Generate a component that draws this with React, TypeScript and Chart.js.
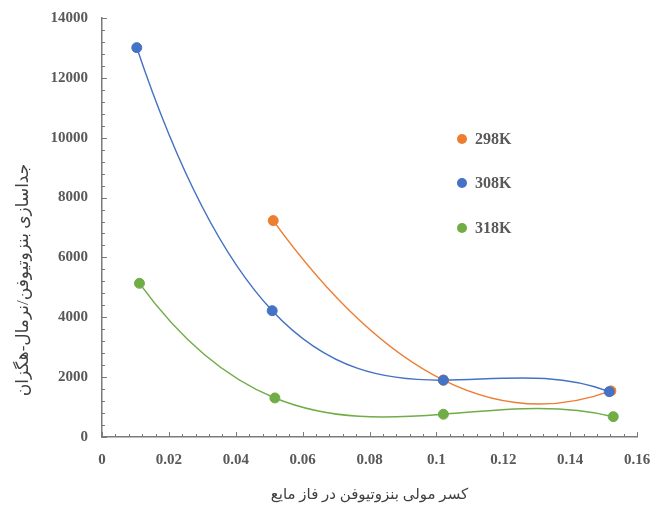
import { useEffect, useRef } from "react";
import { Chart, registerables } from "chart.js";

Chart.register(...registerables);

// Separation factor vs. liquid-phase mole fraction of benzothiophene
const seriesNames = ["298K", "308K", "318K"];
const seriesColors = ["#ED7D31", "#4472C4", "#70AD47"];

const x298 = [0.0512, 0.1021, 0.1522];
const y298 = [7230, 1900, 1540];

const x308 = [0.0104, 0.0509, 0.1021, 0.1517];
const y308 = [13010, 4220, 1900, 1515];

const x318 = [0.0112, 0.0517, 0.1021, 0.1529];
const y318 = [5135, 1305, 760, 680];

const xTickValues = [0, 0.02, 0.04, 0.06, 0.08, 0.1, 0.12, 0.14, 0.16];
const yTickValues = [0, 2000, 4000, 6000, 8000, 10000, 12000, 14000];

const xTitle = "کسر مولی بنزوتیوفن در فاز مایع";
const yTitle = "جداسازی بنزوتیوفن/نرمال-هگزان";

const serif = "'Liberation Serif', 'Times New Roman', 'DejaVu Sans', serif";
const axisColor = "#7a7a7a";
const textColor = "#595959";
const titleColor = "#404040";

const toPoints = (xs: number[], ys: number[]) => xs.map((x, i) => ({ x, y: ys[i] }));

// Slopes of the interpolating polynomial (Newton form) at each data point
function polySlopes(xs: number[], ys: number[]): number[] {
  const n = xs.length;
  const coef = ys.slice();
  for (let j = 1; j < n; j++) {
    for (let i = n - 1; i >= j; i--) {
      coef[i] = (coef[i] - coef[i - 1]) / (xs[i] - xs[i - j]);
    }
  }
  return xs.map((x) => {
    let p = coef[n - 1];
    let dp = 0;
    for (let k = n - 2; k >= 0; k--) {
      dp = dp * (x - xs[k]) + p;
      p = p * (x - xs[k]) + coef[k];
    }
    return dp;
  });
}

// Smooth each line as piecewise cubic Bezier following the interpolating curve
const polyCurve = {
  id: "polyCurve",
  beforeDatasetDraw(chart: any, args: any) {
    const meta = chart.getDatasetMeta(args.index);
    const line = meta.dataset;
    if (!line) return;
    line.updateControlPoints(chart.chartArea, "x");
    const raw = chart.data.datasets[args.index].data as { x: number; y: number }[];
    const xs = raw.map((p) => p.x);
    const ys = raw.map((p) => p.y);
    const d = polySlopes(xs, ys);
    const sx = chart.scales.x;
    const sy = chart.scales.y;
    const pts = meta.data;
    for (let i = 0; i < pts.length; i++) {
      const pt = pts[i];
      if (i > 0) {
        const h = (xs[i] - xs[i - 1]) / 3;
        pt.cp1x = sx.getPixelForValue(xs[i] - h);
        pt.cp1y = sy.getPixelForValue(ys[i] - d[i] * h);
      } else {
        pt.cp1x = pt.x;
        pt.cp1y = pt.y;
      }
      if (i < pts.length - 1) {
        const h = (xs[i + 1] - xs[i]) / 3;
        pt.cp2x = sx.getPixelForValue(xs[i] + h);
        pt.cp2y = sy.getPixelForValue(ys[i] + d[i] * h);
      } else {
        pt.cp2x = pt.x;
        pt.cp2y = pt.y;
      }
    }
    line._path = undefined;
  },
};

// Inside tick marks along both axes
const insideTicks = {
  id: "insideTicks",
  afterDraw(chart: any) {
    const { ctx, chartArea } = chart;
    const xs = chart.scales.x;
    const ys = chart.scales.y;
    ctx.save();
    ctx.strokeStyle = axisColor;
    ctx.lineWidth = 1;
    ctx.beginPath();
    for (let i = 0; i <= 35; i++) {
      const py = Math.round(ys.getPixelForValue(i * 400)) + 0.5;
      const len = i % 5 === 0 ? 5 : 3;
      ctx.moveTo(chartArea.left, py);
      ctx.lineTo(chartArea.left + len, py);
    }
    for (let i = 0; i <= 40; i++) {
      const px = Math.round(xs.getPixelForValue(i * 0.004)) + 0.5;
      const len = i % 5 === 0 ? 5 : 3;
      ctx.moveTo(px, chartArea.bottom);
      ctx.lineTo(px, chartArea.bottom - len);
    }
    ctx.stroke();
    ctx.restore();
  },
};

// Legend inside the plot, and the rotated y-axis title
const annotations = {
  id: "annotations",
  afterDraw(chart: any) {
    const { ctx } = chart;
    ctx.save();
    ctx.font = `bold 16px ${serif}`;
    ctx.textBaseline = "middle";
    ctx.textAlign = "left";
    const rowsY = [139, 183, 228];
    seriesNames.forEach((name, i) => {
      ctx.beginPath();
      ctx.fillStyle = seriesColors[i];
      ctx.arc(462, rowsY[i], 5, 0, Math.PI * 2);
      ctx.fill();
      ctx.fillStyle = textColor;
      ctx.fillText(name, 475, rowsY[i] + 1);
    });

    ctx.translate(24, 280);
    ctx.rotate(-Math.PI / 2);
    ctx.font = `17px ${serif}`;
    ctx.fillStyle = titleColor;
    ctx.textAlign = "center";
    ctx.fillText(yTitle, 0, 0);
    ctx.restore();
  },
};

export default function App() {
  const canvasRef = useRef<HTMLCanvasElement | null>(null);

  useEffect(() => {
    if (!canvasRef.current) return;
    const makeSet = (idx: number, xs: number[], ys: number[], order: number) => ({
      label: seriesNames[idx],
      data: toPoints(xs, ys),
      showLine: true,
      tension: 0.4,
      borderColor: seriesColors[idx],
      backgroundColor: seriesColors[idx],
      pointBackgroundColor: seriesColors[idx],
      pointBorderColor: seriesColors[idx],
      borderWidth: 1.5,
      pointRadius: 5,
      pointBorderWidth: 1,
      order,
    });

    const chart = new Chart(canvasRef.current, {
      type: "scatter",
      data: {
        datasets: [
          makeSet(0, x298, y298, 1),
          makeSet(1, x308, y308, 0),
          makeSet(2, x318, y318, 2),
        ],
      },
      options: {
        animation: false,
        responsive: false,
        layout: { padding: { left: 0, right: 21, top: 18, bottom: 0 } },
        plugins: {
          legend: { display: false },
          tooltip: { enabled: false },
        },
        scales: {
          x: {
            type: "linear",
            min: 0,
            max: 0.16,
            afterBuildTicks: (scale: any) => {
              scale.ticks = xTickValues.map((v) => ({ value: v }));
            },
            afterFit: (scale: any) => {
              scale.height = 74;
              scale.paddingLeft = 0;
              scale.paddingRight = 0;
            },
            grid: { display: false, drawTicks: false },
            border: { display: true, color: axisColor, width: 1.5 },
            ticks: {
              padding: 14,
              color: textColor,
              font: { family: serif, size: 15, weight: "bold" },
              callback: (v: any) => String(Math.round(Number(v) * 100) / 100),
              maxRotation: 0,
              autoSkip: false,
            },
            title: {
              display: true,
              text: xTitle,
              color: titleColor,
              font: { family: serif, size: 15 },
              padding: { top: 0, bottom: 7 },
            },
          },
          y: {
            type: "linear",
            min: 0,
            max: 14000,
            afterBuildTicks: (scale: any) => {
              scale.ticks = yTickValues.map((v) => ({ value: v }));
            },
            afterFit: (scale: any) => {
              scale.width = 102;
              scale.paddingTop = 0;
              scale.paddingBottom = 0;
            },
            grid: { display: false, drawTicks: false },
            border: { display: true, color: axisColor, width: 1.5 },
            ticks: {
              padding: 14,
              color: textColor,
              font: { family: serif, size: 15, weight: "bold" },
              callback: (v: any) => String(v),
              autoSkip: false,
            },
          },
        },
      },
      plugins: [polyCurve, insideTicks, annotations],
    });

    return () => chart.destroy();
  }, []);

  return (
    <div style={{ position: "absolute", left: 0, top: 0, width: 658, height: 511, background: "#fff" }}>
      <canvas ref={canvasRef} width={658} height={511} style={{ display: "block" }} />
    </div>
  );
}
